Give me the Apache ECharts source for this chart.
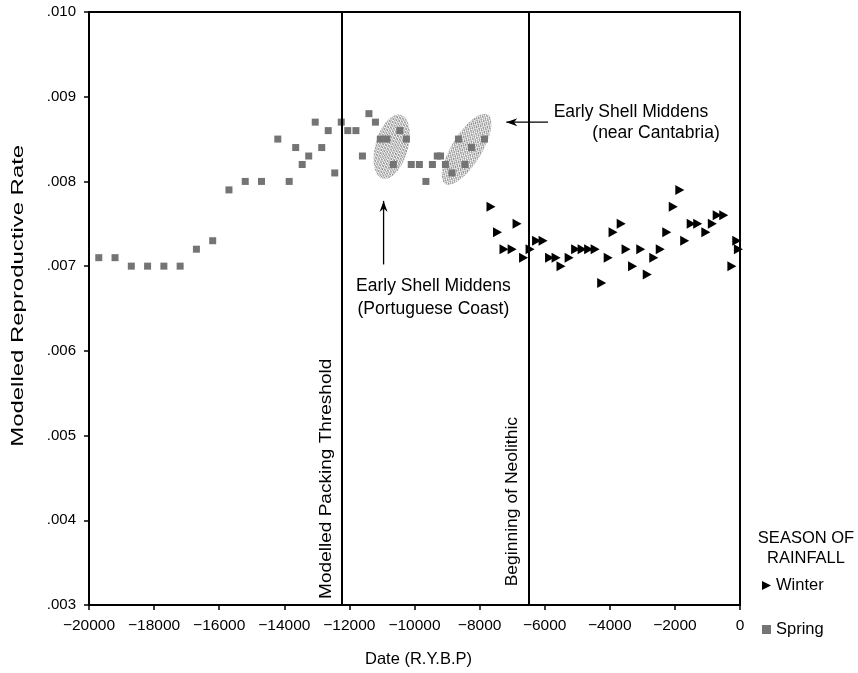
<!DOCTYPE html>
<html>
<head>
<meta charset="utf-8">
<script src="https://cdn.jsdelivr.net/npm/echarts@6/dist/echarts.min.js"></script>
<style>
html,body{margin:0;padding:0;background:#fff;}
#chart{width:858px;height:673px;}
</style>
</head>
<body>
<div id="chart"></div>
<script>
// ---- Data ----
var springDates = [-19700,-19200,-18700,-18200,-17700,-17200,-16700,-16200,-15700,-15200,-14700,-14200,-13850,-13650,-13450,-13250,-13050,-12850,-12650,-12450,-12250,-12050,-11800,-11600,-11400,-11200,-11050,-10850,-10650,-10450,-10250,-10100,-9850,-9650,-9450,-9300,-9200,-9050,-8850,-8650,-8450,-8250,-7850];
var springRates = [0.0071,0.0071,0.0070,0.0070,0.0070,0.0070,0.0072,0.0073,0.0079,0.0080,0.0080,0.0085,0.0080,0.0084,0.0082,0.0083,0.0087,0.0084,0.0086,0.0081,0.0087,0.0086,0.0086,0.0083,0.0088,0.0087,0.0085,0.0085,0.0082,0.0086,0.0085,0.0082,0.0082,0.0080,0.0082,0.0083,0.0083,0.0082,0.0081,0.0085,0.0082,0.0084,0.0085];
var winterDates = [-7650,-6850,-7450,-7250,-7000,-6650,-6450,-6250,-6050,-5850,-5650,-5500,-5250,-5050,-4850,-4650,-4450,-4250,-4050,-3900,-3650,-3500,-3300,-3050,-2850,-2650,-2450,-2250,-2050,-1850,-1700,-1500,-1300,-1050,-850,-700,-500,-250,-100,-50];
var winterRates = [0.0077,0.0075,0.0074,0.0072,0.0072,0.0071,0.0072,0.0073,0.0073,0.0071,0.0071,0.0070,0.0071,0.0072,0.0072,0.0072,0.0072,0.0068,0.0071,0.0074,0.0075,0.0072,0.0070,0.0072,0.0069,0.0071,0.0072,0.0074,0.0077,0.0079,0.0073,0.0075,0.0075,0.0074,0.0075,0.0076,0.0076,0.0070,0.0073,0.0072];
var markerDates = [-12250, -6500];
var xTicks = {min: -20000, max: 0, interval: 2000};
var yTicks = {min: 0.003, max: 0.010, interval: 0.001};

function zip(a, b) { return a.map(function (v, i) { return [v, b[i]]; }); }

var chart = echarts.init(document.getElementById('chart'), null, {renderer: 'canvas'});
var FONT = 'Liberation Sans, Arial, Helvetica, sans-serif';

chart.setOption({
  animation: false,
  backgroundColor: '#fff',
  grid: {left: 89, right: 118, top: 12, bottom: 66, show: true, borderColor: '#000', borderWidth: 2, backgroundColor: 'transparent'},
  xAxis: {
    type: 'value', min: xTicks.min, max: xTicks.max, interval: xTicks.interval,
    name: 'Date (R.Y.B.P)', nameLocation: 'middle', nameGap: 46,
    nameTextStyle: {color: '#000', fontSize: 16.5, fontFamily: FONT, padding: [0, 0, 0, 8]},
    axisLine: {show: true, onZero: false, lineStyle: {color: '#000', width: 2}},
    axisTick: {show: true, length: 5, lineStyle: {color: '#000', width: 1.5}},
    axisLabel: {color: '#000', fontSize: 15.5, fontFamily: FONT, margin: 13,
      formatter: function (v) { return v < 0 ? '\u2212' + Math.abs(v) : String(v); }},
    splitLine: {show: false}
  },
  yAxis: {
    type: 'value', min: yTicks.min, max: yTicks.max, interval: yTicks.interval,
    axisLine: {show: true, onZero: false, lineStyle: {color: '#000', width: 2}},
    axisTick: {show: true, length: 5, lineStyle: {color: '#000', width: 1.5}},
    axisLabel: {color: '#000', fontSize: 15, fontFamily: FONT, margin: 13,
      formatter: function (v) { return v.toFixed(3).replace(/^0/, ''); }},
    splitLine: {show: false}
  },
  legend: {
    orient: 'vertical', left: 757, top: 572, itemWidth: 9, itemHeight: 10, itemGap: 27,
    textStyle: {color: '#000', fontSize: 16.5, fontFamily: FONT},
    data: [
      {name: 'Winter', icon: 'path://M0,0L10,5L0,10Z'},
      {name: 'Spring', icon: 'path://M2,2L8,2L8,8L2,8Z'}
    ]
  },
  series: [
    {
      name: 'Winter', type: 'scatter', data: zip(winterDates, winterRates),
      symbol: 'path://M0,0L10,5L0,10Z', symbolSize: [9, 10],
      itemStyle: {color: '#000', opacity: 1}, z: 3
    },
    {
      name: 'Spring', type: 'scatter', data: zip(springDates, springRates),
      symbol: 'rect', symbolSize: 7,
      itemStyle: {color: '#747474', opacity: 1}, z: 3,
      markLine: {
        silent: true, symbol: ['none', 'none'], animation: false,
        label: {show: false},
        lineStyle: {color: '#000', width: 2, type: 'solid'},
        data: markerDates.map(function (d) { return {xAxis: d}; })
      }
    }
  ]
});

// dotted pattern for the shell midden areas
var pc = document.createElement('canvas');
pc.width = 3; pc.height = 3;
var pctx = pc.getContext('2d');
pctx.fillStyle = '#7a7a7a';
pctx.fillRect(0, 0, 1, 1); pctx.fillRect(1, 1, 1, 1); pctx.fillRect(2, 2, 1, 1);
pctx.fillStyle = '#b0b0b0';
pctx.fillRect(2, 0, 1, 1); pctx.fillRect(0, 2, 1, 1);

function px(x, y) { return chart.convertToPixel({gridIndex: 0}, [x, y]); }

var g = [];
function ellipse(cx, cy, rxYears, ryRate, rot) {
  var c = px(cx, cy);
  var e1 = px(cx + rxYears, cy);
  var e2 = px(cx, cy + ryRate);
  g.push({type: 'ellipse', x: c[0], y: c[1], rotation: rot, z: 1,
    shape: {cx: 0, cy: 0, rx: Math.abs(e1[0] - c[0]), ry: Math.abs(e2[1] - c[1])},
    style: {fill: {image: pc, repeat: 'repeat'}, opacity: 0.9}});
}
ellipse(-10700, 0.00841, 500, 0.00039, -0.28);
ellipse(-8400, 0.00838, 460, 0.00048, -0.55);

function text(x, y, str, opts) {
  var p = px(x, y);
  opts = opts || {};
  var o = {type: 'text', x: p[0], y: p[1], z: 10,
    style: {text: str, fill: '#000', fontSize: opts.fontSize || 17.5, fontFamily: FONT, align: 'center', verticalAlign: 'middle'}};
  if (opts.rotation) o.rotation = opts.rotation;
  if (opts.scaleX) o.scaleX = opts.scaleX;
  g.push(o);
}
text(-3350, 0.00882, 'Early Shell Middens');
text(-2580, 0.008565, '(near Cantabria)');
text(-9420, 0.006765, 'Early Shell Middens');
text(-9420, 0.006494, '(Portuguese Coast)');
text(-12700, 0.00449, 'Modelled Packing Threshold', {rotation: Math.PI / 2, fontSize: 17, scaleX: 1.12});
text(-7000, 0.00422, 'Beginning of Neolithic', {rotation: Math.PI / 2, fontSize: 17, scaleX: 1.03});

// y axis title (placed beside the axis)
var yMid = px(xTicks.min, 0.00665);
g.push({type: 'text', x: 18, y: yMid[1], rotation: Math.PI / 2, scaleX: 1.45, z: 10,
  style: {text: 'Modelled Reproductive Rate', fill: '#000', fontSize: 16.5, fontFamily: FONT, align: 'center', verticalAlign: 'middle'}});

function arrow(x1, y1, x2, y2) {
  var a = px(x1, y1), b = px(x2, y2);
  g.push({type: 'line', z: 10, shape: {x1: a[0], y1: a[1], x2: b[0], y2: b[1]}, style: {stroke: '#000', lineWidth: 1.3}});
  var ang = Math.atan2(b[1] - a[1], b[0] - a[0]);
  var L = 11, W = 4;
  var bx = b[0] - L * Math.cos(ang), by = b[1] - L * Math.sin(ang);
  var nx = -Math.sin(ang) * W, ny = Math.cos(ang) * W;
  g.push({type: 'polygon', z: 10, shape: {points: [[b[0], b[1]], [bx + nx, by + ny], [bx + L * 0.3 * Math.cos(ang), by + L * 0.3 * Math.sin(ang)], [bx - nx, by - ny]]}, style: {fill: '#000'}});
}
arrow(-5900, 0.0087, -7180, 0.0087);
arrow(-10950, 0.00702, -10950, 0.00777);

var lx = 806;
g.push({type: 'text', x: lx, y: 538, z: 10, style: {text: 'SEASON OF', fill: '#000', fontSize: 16.5, fontFamily: FONT, align: 'center', verticalAlign: 'middle'}});
g.push({type: 'text', x: lx, y: 558, z: 10, style: {text: 'RAINFALL', fill: '#000', fontSize: 16.5, fontFamily: FONT, align: 'center', verticalAlign: 'middle'}});

chart.setOption({graphic: g});
</script>
</body>
</html>
